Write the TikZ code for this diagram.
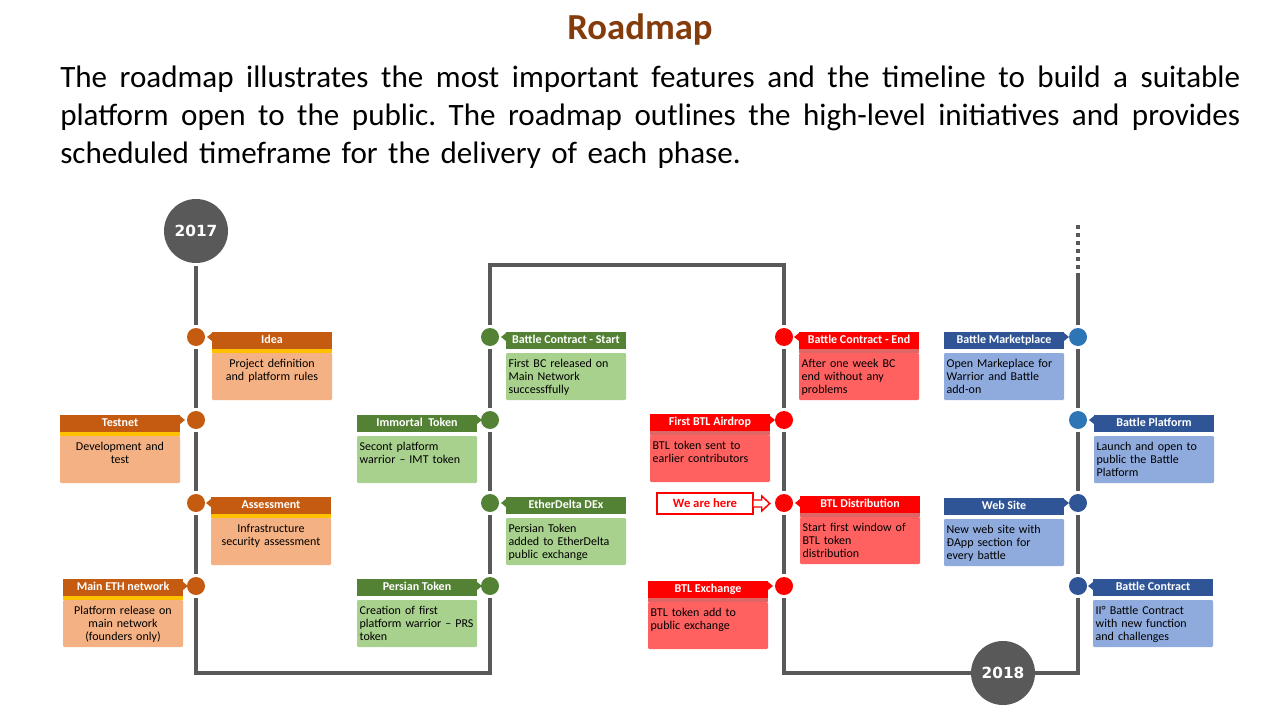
\documentclass[tikz,border=0pt]{standalone}
\usepackage{fontspec}
\setmainfont{Carlito}
\newfontfamily\yearfont{DejaVu Sans}
\definecolor{tl}{HTML}{595959}
\definecolor{titlebrown}{HTML}{843C0C}
\definecolor{orH}{HTML}{C55A11}
\definecolor{orS}{HTML}{FFC000}
\definecolor{orB}{HTML}{F4B183}
\definecolor{grH}{HTML}{548235}
\definecolor{grB}{HTML}{A9D18E}
\definecolor{rdH}{HTML}{FF0000}
\definecolor{rdS}{HTML}{E06666}
\definecolor{rdB}{HTML}{FF6161}
\definecolor{blH}{HTML}{2F5597}
\definecolor{blB}{HTML}{8FAADC}
\definecolor{blL}{HTML}{2E75B6}
% #1 id, #2 dot, #3 side (L/R), #4 x,y of header NW, #5 header colour,
% #6 strip colour, #7 body options, #8 title, #9 body text
\newcommand{\evbox}[9]{%
  \node[hdr, fill=#5] (h#1) at (#4) {#8};
  \fill[#6] (h#1.south west) rectangle ++(120,4);
  \node[bodybox, #7] (t#1) at ([yshift=-3pt]h#1.south west) {#9};
  \if R#3
    \fill[#5] (h#1.west |- #2) ++(0,-4) -- ++(-5,4) -- ++(5,4) -- cycle;
  \else
    \fill[#5] (h#1.east |- #2) ++(0,-4) -- ++(5,4) -- ++(-5,4) -- cycle;
  \fi
}
\newcommand{\fullline}[1]{\leavevmode\hbox to 885pt{\spaceskip=\fontdimen2\font plus 1fil\relax #1}}
\begin{document}
\begin{tikzpicture}[x=0.75pt,y=-0.75pt,
  hdr/.style={anchor=north west, minimum width=90pt, minimum height=12.75pt,
    inner sep=0pt, outer sep=0pt, text=white,
    font=\bfseries\fontsize{9pt}{10pt}\selectfont, text height=6.3pt, text depth=1.7pt},
  bodybox/.style={anchor=north west, text width=86pt, inner xsep=2pt, inner ysep=2pt,
    outer sep=0pt, text height=8.5pt, text depth=22.75pt, rounded corners=0.8pt,
    font=\fontsize{9pt}{9.75pt}\selectfont},
  dot/.style={circle, minimum size=13.5pt, inner sep=0pt, outer sep=2.25pt},
  year/.style={circle, fill=tl, minimum size=48pt, inner sep=0pt, outer sep=2pt,
    text=white, font=\yearfont\bfseries\fontsize{11.5pt}{12pt}\selectfont},
  tline/.style={draw=tl, line width=3pt}]
\useasboundingbox (0,0) rectangle (1280,720);

% title and introduction
\node[anchor=base, text=titlebrown, font=\bfseries\fontsize{27.5pt}{30pt}\selectfont]
  (title) at (640,40) {Roadmap};
\node[anchor=base west, text width=885pt, inner sep=0pt, align=left,
  font=\fontsize{23.3pt}{28.5pt}\selectfont\frenchspacing] (intro) at (60,88)
  {\fullline{The roadmap illustrates the most important features and the timeline to build a suitable}\\
   \fullline{platform open to the public. The roadmap outlines the high-level initiatives and provides}\\
   scheduled timeframe for the delivery of each phase.};

% years
\node[year] (y17) at (196,231) {2017};
\node[year, outer sep=0pt] (y18) at (1003,673) {2018};

% dots
\node[dot, fill=orH] (o1) at (196,337) {};
\node[dot, fill=orH] (o2) at (196,420) {};
\node[dot, fill=orH] (o3) at (196,503) {};
\node[dot, fill=orH] (o4) at (196,586) {};
\node[dot, fill=grH] (g1) at (490,337) {};
\node[dot, fill=grH] (g2) at (490,420) {};
\node[dot, fill=grH] (g3) at (490,503) {};
\node[dot, fill=grH] (g4) at (490,586) {};
\node[dot, fill=rdH] (r1) at (784,337) {};
\node[dot, fill=rdH] (r2) at (784,420) {};
\node[dot, fill=rdH] (r3) at (784,503) {};
\node[dot, fill=rdH] (r4) at (784,586) {};
\node[dot, fill=blL] (b1) at (1078,337) {};
\node[dot, fill=blL] (b2) at (1078,420) {};
\node[dot, fill=blH] (b3) at (1078,503) {};
\node[dot, fill=blH] (b4) at (1078,586) {};

% corners of the timeline
\coordinate (c1) at (196,673);
\coordinate (c2) at (490,673);
\coordinate (c3) at (490,265);
\coordinate (c4) at (784,265);
\coordinate (c5) at (784,673);
\coordinate (c6) at (1078,673);
\coordinate (c7) at (1078,273);
\coordinate (c8) at (1078,269);
\coordinate (c9) at (1078,224);

\draw[tline] (y17) -- (o1) -- (o2) -- (o3) -- (o4) -- (c1) -- (c2)
  -- (g4) -- (g3) -- (g2) -- (g1) -- (c3) -- (c4)
  -- (r1) -- (r2) -- (r3) -- (r4) -- (c5) -- (y18) -- (c6)
  -- (b4) -- (b3) -- (b2) -- (b1) -- (c7);
\draw[tline, dash pattern=on 3pt off 3pt] (c8) -- (c9);

% orange column
\evbox{1}{o1}{R}{212,332}{orH}{orS}{fill=orB, align=center}{Idea}
  {Project definition\\and platform rules}
\evbox{2}{o2}{L}{60,415}{orH}{orS}{fill=orB, align=center}{Testnet}
  {Development and\\test}
\evbox{3}{o3}{R}{211,497}{orH}{orS}{fill=orB, align=center}{Assessment}
  {Infrastructure\\security assessment}
\evbox{4}{o4}{L}{63,579}{orH}{orS}{fill=orB, align=center}{Main ETH network}
  {Platform release on\\main network\\(founders only)}

% green column
\evbox{5}{g1}{R}{506,332}{grH}{white}{fill=grB, align=left}{Battle Contract - Start}
  {First BC released on\\Main Network\\successffully}
\evbox{6}{g2}{L}{357,415}{grH}{white}{fill=grB, align=left}{Immortal~ Token}
  {Secont platform\\warrior – IMT token}
\evbox{7}{g3}{R}{506,497}{grH}{white}{fill=grB, align=left}{EtherDelta DEx}
  {Persian Token\\added to EtherDelta\\public exchange}
\evbox{8}{g4}{L}{357,579}{grH}{white}{fill=grB, align=left}{Persian Token}
  {Creation of first\\platform warrior – PRS\\token}

% red column
\evbox{9}{r1}{R}{799,332}{rdH}{rdS}{fill=rdB, align=left}{Battle Contract - End}
  {After one week BC\\end without any\\problems}
\evbox{10}{r2}{L}{650,414}{rdH}{rdS}{fill=rdB, align=left}{First BTL Airdrop}
  {BTL token sent to\\earlier contributors}
\evbox{11}{r3}{R}{800,496}{rdH}{rdS}{fill=rdB, align=left}{BTL Distribution}
  {Start first window of\\BTL token\\distribution}
\evbox{12}{r4}{L}{648,581}{rdH}{rdS}{fill=rdB, align=left}{BTL Exchange}
  {BTL token add to\\public exchange}

% blue column
\evbox{13}{b1}{L}{944,332}{blH}{white}{fill=blB, align=left}{Battle Marketplace}
  {Open Markeplace for\\Warrior and Battle\\add-on}
\evbox{14}{b2}{R}{1094,415}{blH}{white}{fill=blB, align=left}{Battle Platform}
  {Launch and open to\\public the Battle\\Platform}
\evbox{15}{b3}{L}{944,498}{blH}{white}{fill=blB, align=left}{Web Site}
  {New web site with\\ĐApp section for\\every battle}
\evbox{16}{b4}{R}{1093,579}{blH}{white}{fill=blB, align=left}{Battle Contract}
  {II° Battle Contract\\with new function\\and challenges}

% we are here
\node[draw=rdH, line width=1.1pt, fill=white, text=rdH, minimum width=72pt,
  minimum height=15.75pt, inner sep=0pt,
  font=\bfseries\fontsize{9.5pt}{10pt}\selectfont] (here) at (705,503.5) {We are here};
\draw[rdH, line width=1.1pt, fill=white] (here.east) ++(0,-3.5) -- ++(8,0) -- ++(0,-4)
  -- ++(8,7.5) -- ++(-8,7.5) -- ++(0,-4) -- ++(-8,0);
\end{tikzpicture}
\end{document}
